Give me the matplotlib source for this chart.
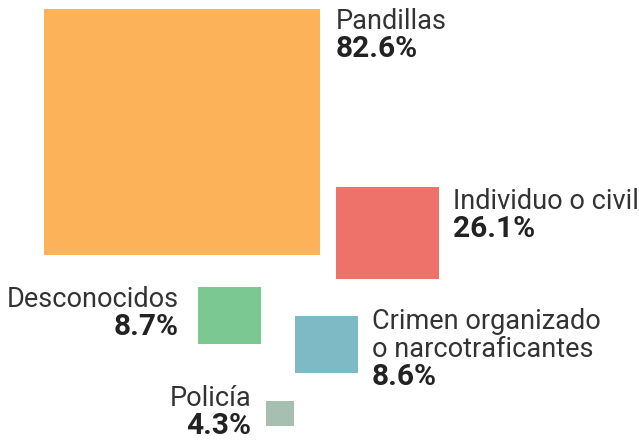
import matplotlib.pyplot as plt
from matplotlib.patches import Rectangle

# data
labels = ["Pandillas", "Individuo o civil", "Crimen organizado\no narcotraficantes", "Desconocidos", "Policía"]
values = [82.6, 26.1, 8.6, 8.7, 4.3]
colors = ["#FBB258", "#EE716A", "#7DBAC6", "#7BC892", "#A7BFB1"]

# layout in pixels (x, y of top-left corner, width, height)
box_x = [44, 336, 295, 198, 266]
box_y = [9, 187, 316, 287, 401]
box_w = [276, 103, 63, 63, 28]
box_h = [246, 92, 57, 57, 25]
# text anchor: x, baseline of first line, alignment
txt_x = [336, 453, 372, 179, 251]
txt_y = [29, 209, 329, 307, 406]
txt_ha = ["left", "left", "left", "right", "right"]

W, H = 639, 440
fig = plt.figure(figsize=(W / 100, H / 100), dpi=100)
ax = fig.add_axes([0, 0, 1, 1])
ax.set_xlim(0, W)
ax.set_ylim(H, 0)
ax.axis("off")

for i in range(len(labels)):
    ax.add_patch(Rectangle((box_x[i], box_y[i]), box_w[i], box_h[i],
                           facecolor=colors[i], edgecolor="none"))
    y = txt_y[i]
    for line in labels[i].split("\n"):
        ax.text(txt_x[i], y, line, ha=txt_ha[i], va="baseline",
                fontsize=19.5, family="Roboto", fontweight="normal", color="#333333")
        y += 28
    ax.text(txt_x[i], y, f"{values[i]}%", ha=txt_ha[i], va="baseline",
            fontsize=21.5, family="Roboto", fontweight="semibold", color="#222222")

fig.savefig("out.png", dpi=100)
